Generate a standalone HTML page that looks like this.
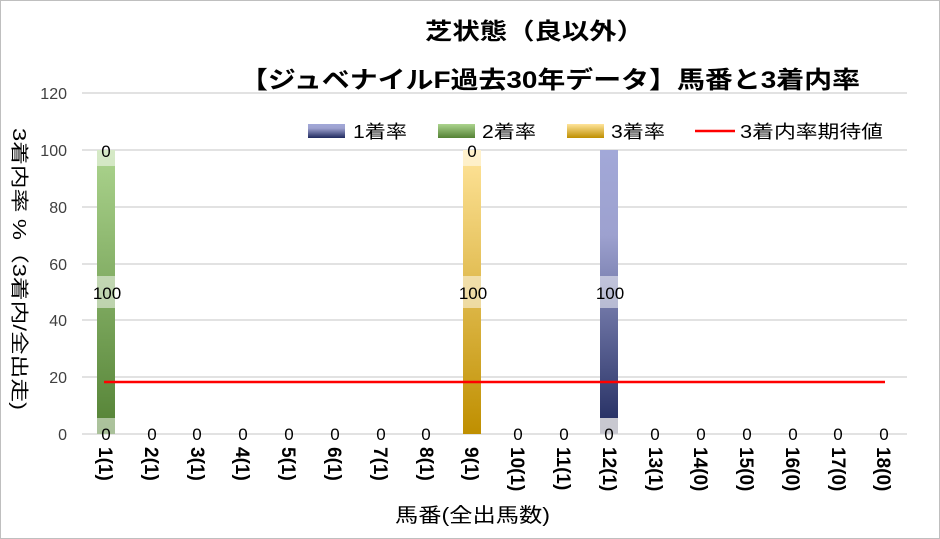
<!DOCTYPE html>
<html><head><meta charset="utf-8"><style>
body{margin:0;background:#fff}
svg{display:block;font-family:"Liberation Sans","Noto Sans CJK JP",sans-serif}
</style></head><body>
<svg width="940" height="539" viewBox="0 0 940 539">
<defs>
<linearGradient id="g" x1="0" y1="0" x2="0" y2="1"><stop offset="0" stop-color="#acd48e"/><stop offset="1" stop-color="#548235"/></linearGradient>
<linearGradient id="y" x1="0" y1="0" x2="0" y2="1"><stop offset="0" stop-color="#ffe49a"/><stop offset="1" stop-color="#bf8f00"/></linearGradient>
<linearGradient id="b" x1="0" y1="0" x2="0" y2="1"><stop offset="0" stop-color="#a2a8d8"/><stop offset="0.3" stop-color="#9da1cf"/><stop offset="1" stop-color="#202a5e"/></linearGradient>
</defs>
<rect x="0.5" y="0.5" width="939" height="538" fill="#fff" stroke="#bfbfbf"/>
<text x="425" y="39" font-size="23" font-weight="bold" textLength="219" lengthAdjust="spacingAndGlyphs">芝状態（良以外）</text>
<text x="240" y="88" font-size="24" font-weight="bold" textLength="620" lengthAdjust="spacingAndGlyphs">【ジュベナイルF過去30年データ】馬番と3着内率</text>
<g stroke="#d9d9d9" stroke-width="1.5">
<line x1="82" x2="907" y1="93" y2="93"/><line x1="82" x2="907" y1="150" y2="150"/><line x1="82" x2="907" y1="207" y2="207"/><line x1="82" x2="907" y1="264" y2="264"/><line x1="82" x2="907" y1="320" y2="320"/><line x1="82" x2="907" y1="377" y2="377"/><line x1="82" x2="907" y1="434" y2="434"/>
</g>
<g font-size="16" fill="#404040" text-anchor="end">
<text x="67" y="99">120</text><text x="67" y="156">100</text><text x="67" y="213">80</text><text x="67" y="270">60</text><text x="67" y="326">40</text><text x="67" y="383">20</text><text x="67" y="440">0</text>
</g>
<text transform="translate(13,128) rotate(90)" font-size="18" textLength="282" lengthAdjust="spacingAndGlyphs">3着内率 %（3着内/全出走)</text>
<g font-size="18">
<rect x="308" y="124" width="37" height="14" fill="url(#b)"/><text x="353" y="138" textLength="54" lengthAdjust="spacingAndGlyphs">1着率</text>
<rect x="438" y="124" width="37" height="14" fill="url(#g)"/><text x="482" y="138" textLength="54" lengthAdjust="spacingAndGlyphs">2着率</text>
<rect x="567" y="124" width="37" height="14" fill="url(#y)"/><text x="611" y="138" textLength="54" lengthAdjust="spacingAndGlyphs">3着率</text>
<line x1="695" x2="735" y1="131" y2="131" stroke="#f00" stroke-width="2.5"/><text x="740" y="138" textLength="143" lengthAdjust="spacingAndGlyphs">3着内率期待値</text>
</g>
<rect x="97" y="150" width="18" height="284" fill="url(#g)"/>
<rect x="463" y="150" width="18" height="284" fill="url(#y)"/>
<rect x="600" y="150" width="18" height="284" fill="url(#b)"/>
<g fill="#fff" opacity="0.5">
<rect x="97" y="150" width="18" height="16"/><rect x="97" y="276" width="18" height="32"/><rect x="97" y="418" width="18" height="16"/>
<rect x="463" y="150" width="18" height="16"/><rect x="463" y="276" width="18" height="32"/>
<rect x="600" y="276" width="18" height="32"/>
</g>
<rect x="600" y="418" width="18" height="16" fill="#c8c8d0"/>
<line x1="104" x2="885" y1="382" y2="382" stroke="#f00" stroke-width="2.5"/>
<g font-size="17" text-anchor="middle">
<text x="106" y="157">0</text><text x="472" y="157">0</text>
<text x="107" y="299">100</text><text x="473" y="299">100</text><text x="610" y="299">100</text>
</g>
<g font-size="17" text-anchor="middle">
<text x="106" y="440">0</text><text x="152" y="440">0</text><text x="197" y="440">0</text><text x="243" y="440">0</text><text x="289" y="440">0</text><text x="335" y="440">0</text><text x="381" y="440">0</text><text x="426" y="440">0</text><text x="518" y="440">0</text><text x="564" y="440">0</text><text x="609" y="440">0</text><text x="655" y="440">0</text><text x="701" y="440">0</text><text x="747" y="440">0</text><text x="793" y="440">0</text><text x="838" y="440">0</text><text x="884" y="440">0</text>
</g>
<g font-size="19" font-weight="bold">
<text transform="translate(99,447) rotate(90)">1(1)</text>
<text transform="translate(145,447) rotate(90)">2(1)</text>
<text transform="translate(191,447) rotate(90)">3(1)</text>
<text transform="translate(236,447) rotate(90)">4(1)</text>
<text transform="translate(282,447) rotate(90)">5(1)</text>
<text transform="translate(328,447) rotate(90)">6(1)</text>
<text transform="translate(374,447) rotate(90)">7(1)</text>
<text transform="translate(420,447) rotate(90)">8(1)</text>
<text transform="translate(465,447) rotate(90)">9(1)</text>
<text transform="translate(511,447) rotate(90)">10(1)</text>
<text transform="translate(557,447) rotate(90)">11(1)</text>
<text transform="translate(603,447) rotate(90)">12(1)</text>
<text transform="translate(649,447) rotate(90)">13(1)</text>
<text transform="translate(694,447) rotate(90)">14(0)</text>
<text transform="translate(740,447) rotate(90)">15(0)</text>
<text transform="translate(786,447) rotate(90)">16(0)</text>
<text transform="translate(832,447) rotate(90)">17(0)</text>
<text transform="translate(877,447) rotate(90)">18(0)</text>
</g>
<text x="395" y="522" font-size="20" textLength="155" lengthAdjust="spacingAndGlyphs">馬番(全出馬数)</text>
</svg>
</body></html>
